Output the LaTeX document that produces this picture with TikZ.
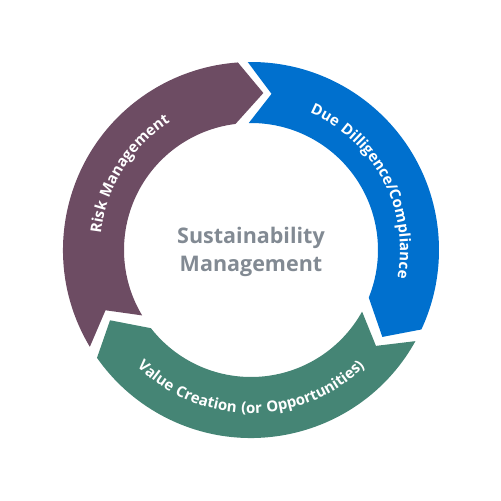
\documentclass[tikz,border=0pt]{standalone}
\usepackage{fontspec}
\setmainfont{Open Sans}
\newfontfamily\arcfont[LetterSpace=6]{Open Sans Bold}
\newfontfamily\hubfont{Open Sans Bold}
\usetikzlibrary{decorations.text}
\definecolor{riskcol}{HTML}{6D4C63}
\definecolor{duecol}{HTML}{0070CE}
\definecolor{valuecol}{HTML}{458575}
\definecolor{hubcol}{HTML}{828A93}

\begin{document}
\begin{tikzpicture}[
    arclabel/.style={decorate,decoration={text along path,text align=center,text color=white,
        text={|\arcfont\fontsize{15}{15}\selectfont|#1}}}]
    \useasboundingbox (-251pt,-251pt) rectangle (250pt,250pt);
    % ring segments, clockwise, each with a head and a notched tail
    \foreach \a/\b/\c in {211/94/riskcol, 91/-25/duecol, -29/-145/valuecol}
        \fill[\c] (\a:188pt) arc[start angle=\a, end angle=\b, radius=188pt]
            -- (\b-8.5:157.5pt) -- (\b+3:127pt)
            arc[start angle=\b+3, end angle=\a, radius=127pt]
            -- (\a-8.5:157.5pt) -- cycle;
    \path[arclabel=Risk Management] (203:151pt) arc[start angle=203, end angle=93, radius=151pt];
    \path[arclabel=Due Dilligence/Compliance] (87:149pt) arc[start angle=87, end angle=-31, radius=149pt];
    \path[arclabel=Value Creation (or Opportunities)] (210:163pt) arc[start angle=210, end angle=330, radius=163pt];
    \node[text=hubcol, align=center, font=\hubfont\fontsize{21.5}{28}\selectfont] (hub) at (0,-2pt) {Sustainability\\Management};
\end{tikzpicture}
\end{document}
